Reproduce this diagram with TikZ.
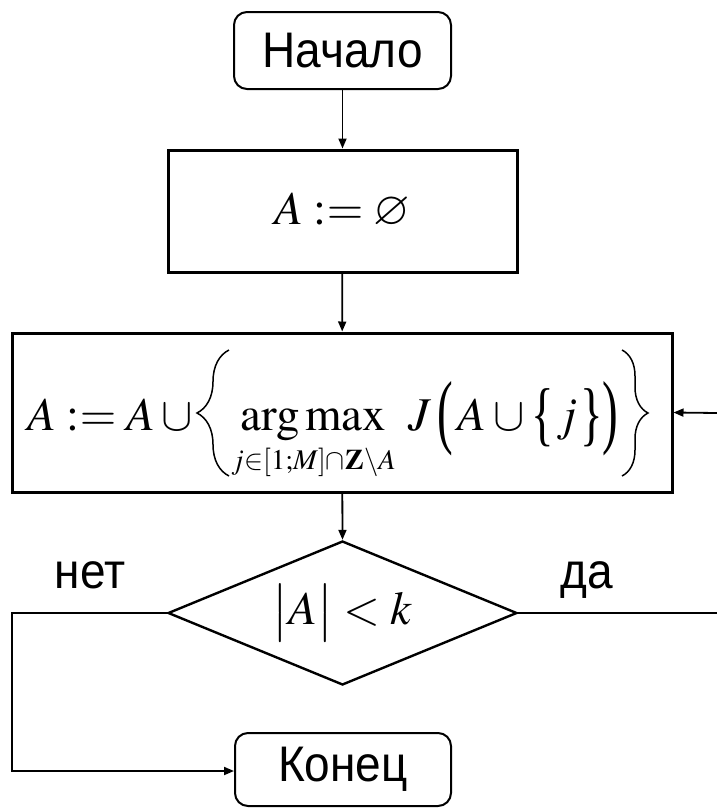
\documentclass[tikz,border=0pt]{standalone}
\usepackage{amsmath}
\usepackage{amssymb}
\usepackage{mathptmx}
\usepackage{graphicx}
\usepackage{fontspec}
\newfontfamily\rusf[FakeStretch=0.92]{Liberation Sans}
\newfontfamily\tms{Liberation Serif}
\usetikzlibrary{shapes.geometric,arrows.meta,decorations.pathreplacing}
\newcommand{\tallglyph}[2]{\mathord{\vcenter{\hbox{\scalebox{1}[#1]{\tms #2}}}}}
\tikzset{
  termbox/.style={draw, line width=2pt, rounded corners=13pt, minimum width=217pt, minimum height=77pt, inner sep=0pt, font=\rusf\fontsize{50}{60}\selectfont},
  procbox/.style={draw, line width=3pt, inner sep=0pt},
  decbox/.style={draw, line width=2.4pt, diamond, inner sep=0pt},
  conn/.style={line width=1.8pt, -{Triangle[length=10pt,width=8pt]}},
  plainconn/.style={line width=1.8pt},
  lbl/.style={font=\rusf\fontsize{50}{60}\selectfont, inner sep=0pt, anchor=base},
  mathbig/.style={font=\fontsize{47}{56}\selectfont},
  setbrace/.style={line width=1.5pt, decorate, decoration={brace, amplitude=32pt}}
}
\begin{document}
\begin{tikzpicture}[x=1pt,y=-1pt]
\useasboundingbox (0,0) rectangle (717,809);
\node[termbox] (start) at (342.5,50.5) {Начало};
\node[procbox, minimum width=349pt, minimum height=122pt, mathbig] (init) at (342.5,211) {$A:=\varnothing$};
\node[procbox, minimum width=660pt, minimum height=159pt] (step) at (342,412.5) {};
\node[mathbig, inner sep=0pt, anchor=base east] (lhs) at (200,430) {$A\mathrel{:=}A\cup{}$};
\node[mathbig, inner sep=0pt, anchor=base west] (rhs) at (231,430)
  {$\mathop{\arg\max}\limits_{\scalebox{0.82}{$\scriptstyle j\in[1;M]\cap\mathbf{Z}\setminus A$}}\mkern3mu J\mkern2mu\tallglyph{1.75}{(}\mkern2mu A\cup\tallglyph{1.5}{\{}\mkern1mu j\mkern1mu\tallglyph{1.5}{\}}\tallglyph{1.75}{)}$};
\coordinate (lbb) at (229,476);
\coordinate (lbt) at (229,350);
\coordinate (rbt) at (622,350);
\coordinate (rbb) at (622,476);
\draw[setbrace] (lbb) -- (lbt);
\draw[setbrace, decoration={brace, amplitude=26pt}] (rbt) -- (rbb);
\node[decbox, minimum width=349pt, minimum height=144pt, aspect=2.42, mathbig] (cond) at (342.5,613) {$\bigl|A\bigr|\mathrel{<}k$};
\node[termbox, minimum width=216pt, minimum height=73pt] (end) at (343,769.5) {Конец};
\node[lbl] (no) at (90,588) {нет};
\node[lbl] (yes) at (587,588) {да};
\coordinate (lc) at (12,613);
\coordinate (ld) at (12,771);
\coordinate (rc) at (717,613);
\coordinate (rb) at (717,413);
\draw[conn] (start) -- (init);
\draw[conn] (init) -- (step);
\draw[conn] (step) -- (cond.north);
\draw[conn] (cond.west) -- (lc) -- (ld) -- (end.west |- ld);
\draw[plainconn] (cond.east) -- (rc);
\draw[conn] (rb) -- (step.east);
\end{tikzpicture}
\end{document}
